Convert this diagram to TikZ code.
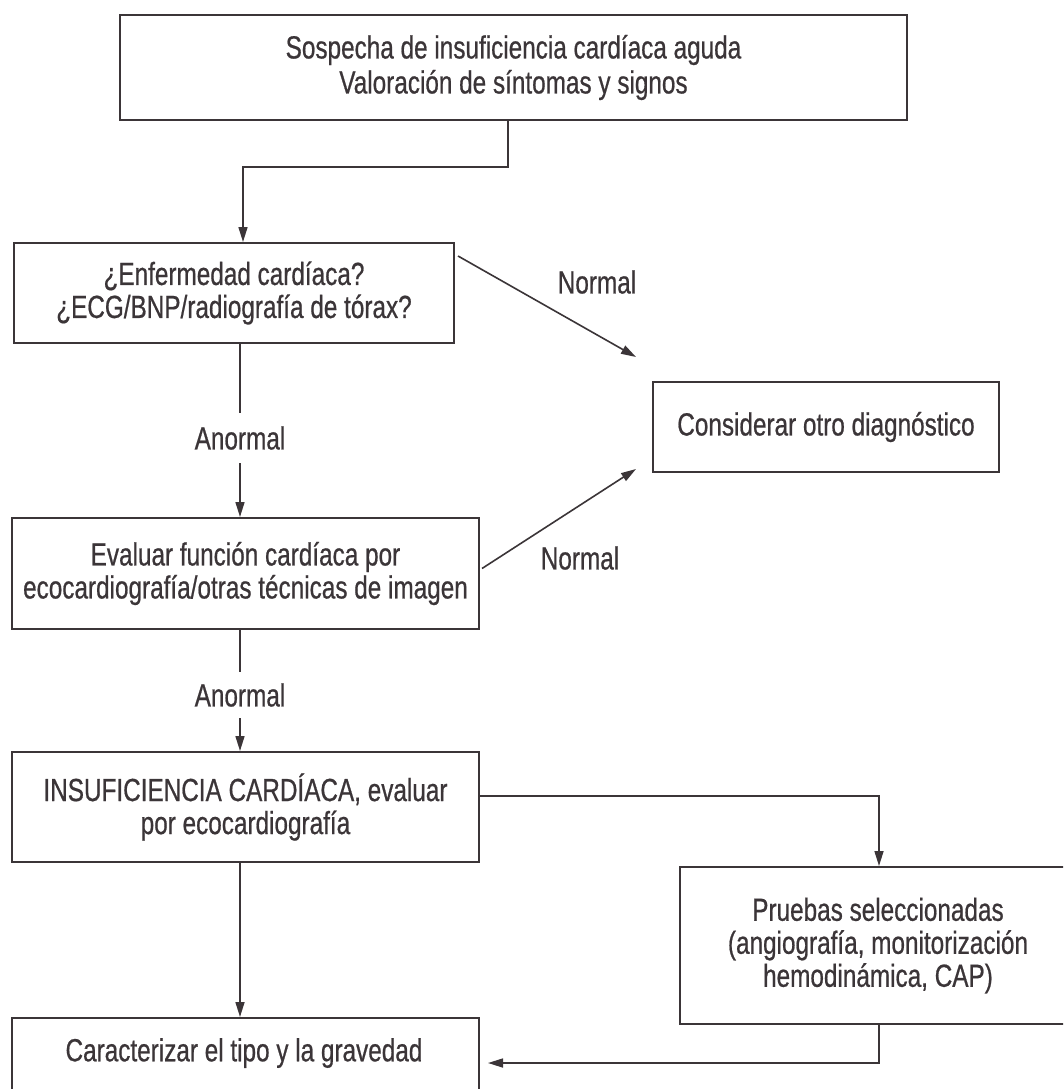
\documentclass[tikz,border=0pt]{standalone}
\usepackage{fontspec}
\setmainfont[FakeStretch=0.76,FakeBold=0.6]{Liberation Sans}
\usetikzlibrary{arrows.meta,calc}
\definecolor{ink}{HTML}{3B3538}
\tikzset{
  box/.style={draw=ink, line width=2pt, align=center, text=ink, inner sep=0pt,
    font=\fontsize{32}{33}\selectfont},
  lbl/.style={text=ink, inner sep=0pt, font=\fontsize{32}{33}\selectfont},
  conn/.style={draw=ink, line width=1.6pt},
  arr/.style={conn, -{Triangle[length=15pt,width=9pt]}}
}
\begin{document}
\begin{tikzpicture}[x=1pt,y=-1pt]
\useasboundingbox (0,0) rectangle (1063,1089);
\clip (0,0) rectangle (1063,1089);
\fill[white] (0,0) rectangle (1063,1089);

\node[box, minimum width=787pt, minimum height=105pt, font=\fontsize{32}{35}\selectfont] (b1) at (513.5,67.5)
  {Sospecha de insuficiencia cardíaca aguda\\Valoración de síntomas y signos};
\node[box, minimum width=440pt, minimum height=100pt] (b2) at (234,293)
  {¿Enfermedad cardíaca?\\¿ECG/BNP/radiografía de tórax?};
\node[box, minimum width=346pt, minimum height=90pt] (cons) at (826,427)
  {Considerar otro diagnóstico};
\node[box, minimum width=467pt, minimum height=111pt] (b3) at (245.5,573.5)
  {Evaluar función cardíaca por\\ecocardiografía/otras técnicas de imagen};
\node[box, minimum width=467pt, minimum height=110pt] (b4) at (245.5,807)
  {INSUFICIENCIA CARDÍACA, evaluar\\por ecocardiografía};
\node[box, minimum width=396pt, minimum height=157pt] (b5) at (878,945.5)
  {Pruebas seleccionadas\\(angiografía, monitorización\\hemodinámica, CAP)};
\node[box, minimum width=467pt, minimum height=140pt] (b6) at (245.5,1088)
  {};
\node[lbl] (t6) at (244,1053) {Caracterizar el tipo y la gravedad};

\node[lbl] (n1) at (597,282) {Normal};
\node[lbl] (n2) at (580,558) {Normal};
\node[lbl, minimum height=50pt] (a1) at (240,438) {Anormal};
\node[lbl, minimum height=46pt] (a2) at (240,695) {Anormal};

\coordinate (k1) at (508,167);
\coordinate (k2) at (243,167);
\coordinate (xl) at (240,0);
\coordinate (r1) at (879,796);
\coordinate (r2) at (879,1063);
\coordinate (r3) at (488,1063);

\draw[arr] (b1.south -| k1) -- (k1) -- (k2) -- (k2 |- b2.north);
\draw[arr] ($(b2.north east)+(3,14)$) -- ($(cons.north west)+(-16,-24)$);
\draw[arr] ($(b3.east)+(2,-5)$) -- ($(cons.south west)+(-16,-4)$);
\draw[conn] (b2.south -| xl) -- (a1.north);
\draw[arr] (a1.south) -- (b3.north -| xl);
\draw[conn] (b3.south -| xl) -- (a2.north);
\draw[arr] (a2.south) -- (b4.north -| xl);
\draw[arr] (b4.south -| xl) -- (b6.north -| xl);
\draw[arr] (b4.east |- r1) -- (r1) -- (b5.north -| r1);
\draw[arr] (b5.south -| r2) -- (r2) -- (r3);
\end{tikzpicture}
\end{document}
